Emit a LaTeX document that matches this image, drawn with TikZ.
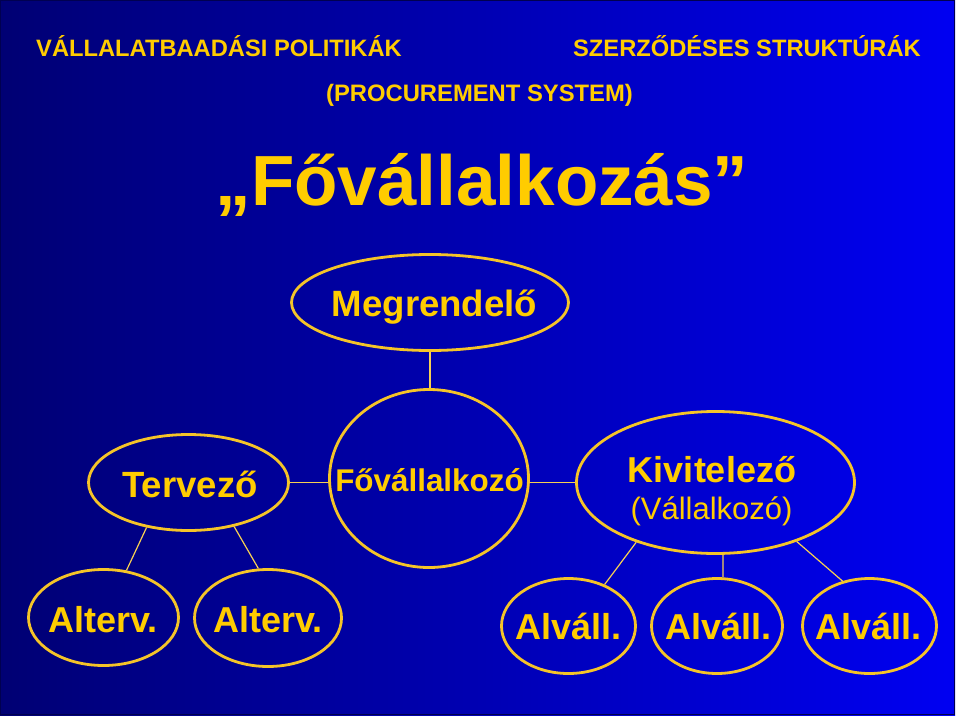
\documentclass[tikz,border=0pt]{standalone}
\usepackage{fontspec}
\setmainfont{Liberation Sans}
\usetikzlibrary{shapes.geometric}
\definecolor{bgL}{RGB}{0,0,115}
\definecolor{bgR}{RGB}{0,0,242}
\definecolor{gold}{RGB}{255,204,0}
\definecolor{ring}{RGB}{245,196,40}
\begin{document}
\begin{tikzpicture}[x=1pt,y=-1pt,
  oval/.style={ellipse, draw=ring, line width=2.8pt, inner sep=0pt},
  link/.style={draw=ring!80!white, line width=1.2pt},
  txt/.style={text=gold, font=\fontsize{#1}{#1}\selectfont\bfseries, anchor=base, inner sep=0pt},
  ntxt/.style={text=gold, font=\fontsize{#1}{#1}\selectfont, anchor=base, inner sep=0pt}]
\useasboundingbox (0,0) rectangle (959,718);
\fill[white] (0,0) rectangle (959,718);
\shade[left color=bgL, right color=bgR] (0,0) rectangle (955,715);
\draw[draw=bgL!70!black, line width=1pt] (0.5,0.5) rectangle (954.5,714.5);
% headings
\node[txt=23.7, anchor=base west] (h1) at (36,56) {VÁLLALATBAADÁSI POLITIKÁK};
\node[txt=23.7, anchor=base east] (h2) at (921,56) {SZERZŐDÉSES STRUKTÚRÁK};
\node[txt=23.8] (proc) at (479.5,101) {(PROCUREMENT SYSTEM)};
\node[txt=71] (title) at (482,205) {„Fővállalkozás”};
% shapes
\node[oval, minimum width=277, minimum height=96] (meg) at (430,302.5) {};
\node[oval, minimum width=199, minimum height=178] (fo) at (429,478.5) {};
\node[oval, minimum width=200, minimum height=96] (terv) at (188.5,482.5) {};
\node[oval, minimum width=150, minimum height=96] (alt1) at (103.5,617.5) {};
\node[oval, minimum width=147, minimum height=97] (alt2) at (268,618) {};
\node[oval, minimum width=278, minimum height=142] (kiv) at (715.5,482.5) {};
\node[oval, minimum width=134, minimum height=95] (alv1) at (568.5,626) {};
\node[oval, minimum width=131, minimum height=95] (alv2) at (717,626) {};
\node[oval, minimum width=134, minimum height=95] (alv3) at (869.5,626) {};
% labels
\node[txt=36.6] (megT) at (434.5,316) {Megrendelő};
\node[txt=31.4] (foT) at (429.5,491) {Fővállalkozó};
\node[txt=36.5] (tervT) at (190,497) {Tervező};
\node[txt=36] (alt1T) at (103,632) {Alterv.};
\node[txt=36] (alt2T) at (268,632) {Alterv.};
\node[txt=36] (kivT) at (712,482) {Kivitelező};
\node[ntxt=31] (kivT2) at (711.5,519) {(Vállalkozó)};
\node[txt=36] (alv1T) at (568.5,639) {Alváll.};
\node[txt=36] (alv2T) at (718.5,639) {Alváll.};
\node[txt=36] (alv3T) at (868.5,639) {Alváll.};
% connectors
\draw[link] (meg.south) -- (meg.south |- fo.north);
\draw[link] (terv.east) -- (terv.east -| fo.west);
\draw[link] (kiv.west -| fo.east) -- (kiv.west);
\draw[link] (terv.227) -- (alt1.64);
\draw[link] (terv.316) -- (alt2.101);
\draw[link] (kiv.217) -- (alv1.49);
\draw[link] (kiv.276) -- (alv2.83);
\draw[link] (kiv.324) -- (alv3.121);
\end{tikzpicture}
\end{document}
